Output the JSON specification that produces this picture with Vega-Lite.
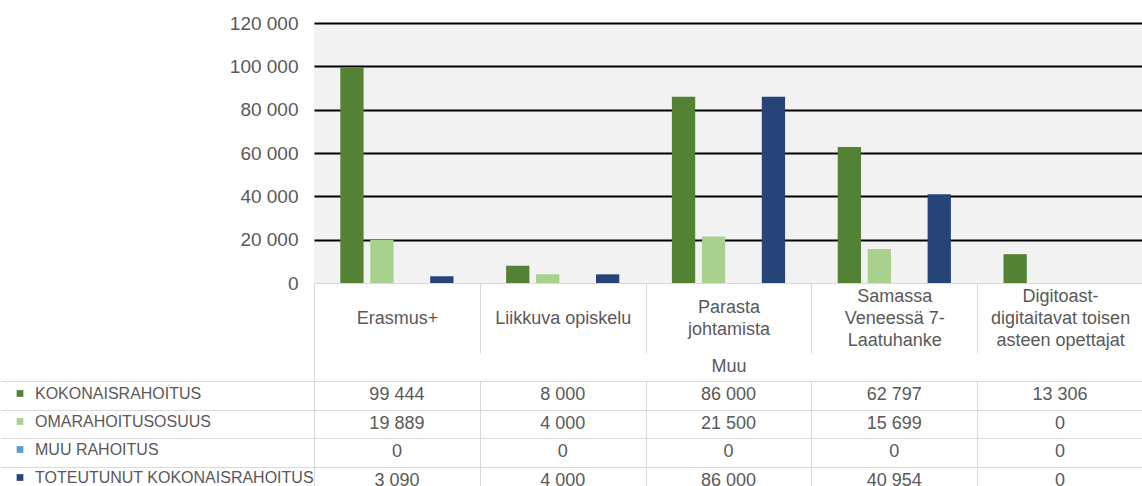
{
  "$schema": "https://vega.github.io/schema/vega-lite/v6.json",
  "padding": {"left": 0, "top": 14, "right": 0, "bottom": 0},
  "config": {
    "font": "Liberation Sans",
    "locale": {"number": {"decimal": ",", "thousands": " ", "grouping": [3], "currency": ["", " €"]}}
  },
  "data": {"name": "d"},
  "datasets": {
    "d": [
      {"cat": "Erasmus+", "series": "KOKONAISRAHOITUS", "value": 99444},
      {"cat": "Erasmus+", "series": "OMARAHOITUSOSUUS", "value": 19889},
      {"cat": "Erasmus+", "series": "MUU RAHOITUS", "value": 0},
      {"cat": "Erasmus+", "series": "TOTEUTUNUT KOKONAISRAHOITUS", "value": 3090},
      {"cat": "Liikkuva opiskelu", "series": "KOKONAISRAHOITUS", "value": 8000},
      {"cat": "Liikkuva opiskelu", "series": "OMARAHOITUSOSUUS", "value": 4000},
      {"cat": "Liikkuva opiskelu", "series": "MUU RAHOITUS", "value": 0},
      {"cat": "Liikkuva opiskelu", "series": "TOTEUTUNUT KOKONAISRAHOITUS", "value": 4000},
      {"cat": "Parasta johtamista", "series": "KOKONAISRAHOITUS", "value": 86000},
      {"cat": "Parasta johtamista", "series": "OMARAHOITUSOSUUS", "value": 21500},
      {"cat": "Parasta johtamista", "series": "MUU RAHOITUS", "value": 0},
      {"cat": "Parasta johtamista", "series": "TOTEUTUNUT KOKONAISRAHOITUS", "value": 86000},
      {"cat": "Samassa Veneessä 7-Laatuhanke", "series": "KOKONAISRAHOITUS", "value": 62797},
      {"cat": "Samassa Veneessä 7-Laatuhanke", "series": "OMARAHOITUSOSUUS", "value": 15699},
      {"cat": "Samassa Veneessä 7-Laatuhanke", "series": "MUU RAHOITUS", "value": 0},
      {"cat": "Samassa Veneessä 7-Laatuhanke", "series": "TOTEUTUNUT KOKONAISRAHOITUS", "value": 40954},
      {"cat": "Digitoast-digitaitavat toisen asteen opettajat", "series": "KOKONAISRAHOITUS", "value": 13306},
      {"cat": "Digitoast-digitaitavat toisen asteen opettajat", "series": "OMARAHOITUSOSUUS", "value": 0},
      {"cat": "Digitoast-digitaitavat toisen asteen opettajat", "series": "MUU RAHOITUS", "value": 0},
      {"cat": "Digitoast-digitaitavat toisen asteen opettajat", "series": "TOTEUTUNUT KOKONAISRAHOITUS", "value": 0}
    ]
  },
  "spacing": 0,
  "resolve": {"legend": {"color": "independent"}, "scale": {"x": "independent", "y": "independent"}},
  "vconcat": [
    {
      "width": 829,
      "height": 260,
      "view": {"fill": "#F2F2F2", "stroke": null},
      "mark": {"type": "bar"},
      "encoding": {
        "x": {
          "field": "cat", "type": "nominal",
          "sort": ["Erasmus+", "Liikkuva opiskelu", "Parasta johtamista", "Samassa Veneessä 7-Laatuhanke", "Digitoast-digitaitavat toisen asteen opettajat"],
          "scale": {"paddingInner": 0, "paddingOuter": 0},
          "axis": {
            "title": "Muu", "titleFontSize": 18, "titleFontWeight": "normal", "titleColor": "#595959",
            "titleY": 83, "titleBaseline": "middle",
            "labelExpr": "datum.value == 'Parasta johtamista' ? ['Parasta','johtamista'] : datum.value == 'Samassa Veneessä 7-Laatuhanke' ? ['Samassa','Veneessä 7-','Laatuhanke'] : datum.value == 'Digitoast-digitaitavat toisen asteen opettajat' ? ['Digitoast-','digitaitavat toisen','asteen opettajat'] : datum.label",
            "labelAngle": 0, "labelBaseline": "middle",
            "labelPadding": {
              "condition": [
                {"test": "datum.value === 'Parasta johtamista'", "value": -46},
                {"test": "datum.value === 'Samassa Veneessä 7-Laatuhanke' || datum.value === 'Digitoast-digitaitavat toisen asteen opettajat'", "value": -57}
              ],
              "value": -35
            },
            "labelFontSize": 18,
            "labelColor": "#595959", "labelLineHeight": 22, "labelLimit": 0,
            "tickBand": "extent",
            "tickSize": {"condition": {"test": "datum.extra", "value": 96}, "value": 70},
            "tickColor": "#D9D9D9", "domainColor": "#D9D9D9", "grid": false
          }
        },
        "xOffset": {
          "field": "series", "type": "nominal",
          "sort": ["KOKONAISRAHOITUS", "OMARAHOITUSOSUUS", "MUU RAHOITUS", "TOTEUTUNUT KOKONAISRAHOITUS"],
          "scale": {"paddingInner": 0.223, "paddingOuter": 0.878}
        },
        "y": {
          "field": "value", "type": "quantitative",
          "scale": {"domain": [0, 120000]},
          "axis": {
            "title": null,
            "values": [0, 20000, 40000, 60000, 80000, 100000, 120000],
            "format": ",d", "domain": false, "ticks": false, "labelPadding": 16,
            "labelFontSize": 19, "labelColor": "#595959",
            "gridColor": {"condition": {"test": "datum.value === 0", "value": "transparent"}, "value": "#000000"},
            "gridWidth": 2
          }
        },
        "color": {
          "field": "series", "type": "nominal",
          "sort": ["KOKONAISRAHOITUS", "OMARAHOITUSOSUUS", "MUU RAHOITUS", "TOTEUTUNUT KOKONAISRAHOITUS"],
          "scale": {
            "domain": ["KOKONAISRAHOITUS", "OMARAHOITUSOSUUS", "MUU RAHOITUS", "TOTEUTUNUT KOKONAISRAHOITUS"],
            "range": ["#548235", "#A9D18E", "#5B9BD5", "#264478"]
          },
          "legend": null
        }
      }
    },
    {
      "width": 829,
      "height": 114,
      "view": {"stroke": null},
      "encoding": {
        "x": {
          "field": "cat", "type": "nominal",
          "sort": ["Erasmus+", "Liikkuva opiskelu", "Parasta johtamista", "Samassa Veneessä 7-Laatuhanke", "Digitoast-digitaitavat toisen asteen opettajat"],
          "scale": {"paddingInner": 0, "paddingOuter": 0},
          "axis": {"title": null, "labels": false, "ticks": false, "domain": false, "grid": true, "gridColor": "#D9D9D9", "tickBand": "extent"}
        },
        "y": {
          "field": "series", "type": "nominal",
          "sort": ["KOKONAISRAHOITUS", "OMARAHOITUSOSUUS", "MUU RAHOITUS", "TOTEUTUNUT KOKONAISRAHOITUS"],
          "scale": {"paddingInner": 0, "paddingOuter": 0},
          "axis": {"title": null, "labels": false, "domain": false, "ticks": true, "tickSize": 313, "tickColor": "#D9D9D9", "grid": true, "gridColor": "#D9D9D9", "tickBand": "extent"}
        }
      },
      "layer": [
        {
          "mark": {"type": "text", "fontSize": 18, "color": "#595959", "baseline": "middle"},
          "encoding": {"text": {"field": "value", "type": "quantitative", "format": ",d"}}
        },
        {
          "mark": {"type": "square", "opacity": 0},
          "encoding": {
            "color": {
              "field": "series", "type": "nominal",
              "sort": ["KOKONAISRAHOITUS", "OMARAHOITUSOSUUS", "MUU RAHOITUS", "TOTEUTUNUT KOKONAISRAHOITUS"],
              "legend": {
                "orient": "none", "legendX": -302, "legendY": 4.5, "title": null,
                "symbolType": "square", "symbolSize": 45, "symbolOpacity": 1, "symbolStrokeWidth": 0,
                "labelFontSize": 16, "labelColor": "#595959", "labelOffset": 7,
                "rowPadding": 12, "padding": 0, "labelLimit": 0
              }
            }
          }
        }
      ]
    }
  ]
}
